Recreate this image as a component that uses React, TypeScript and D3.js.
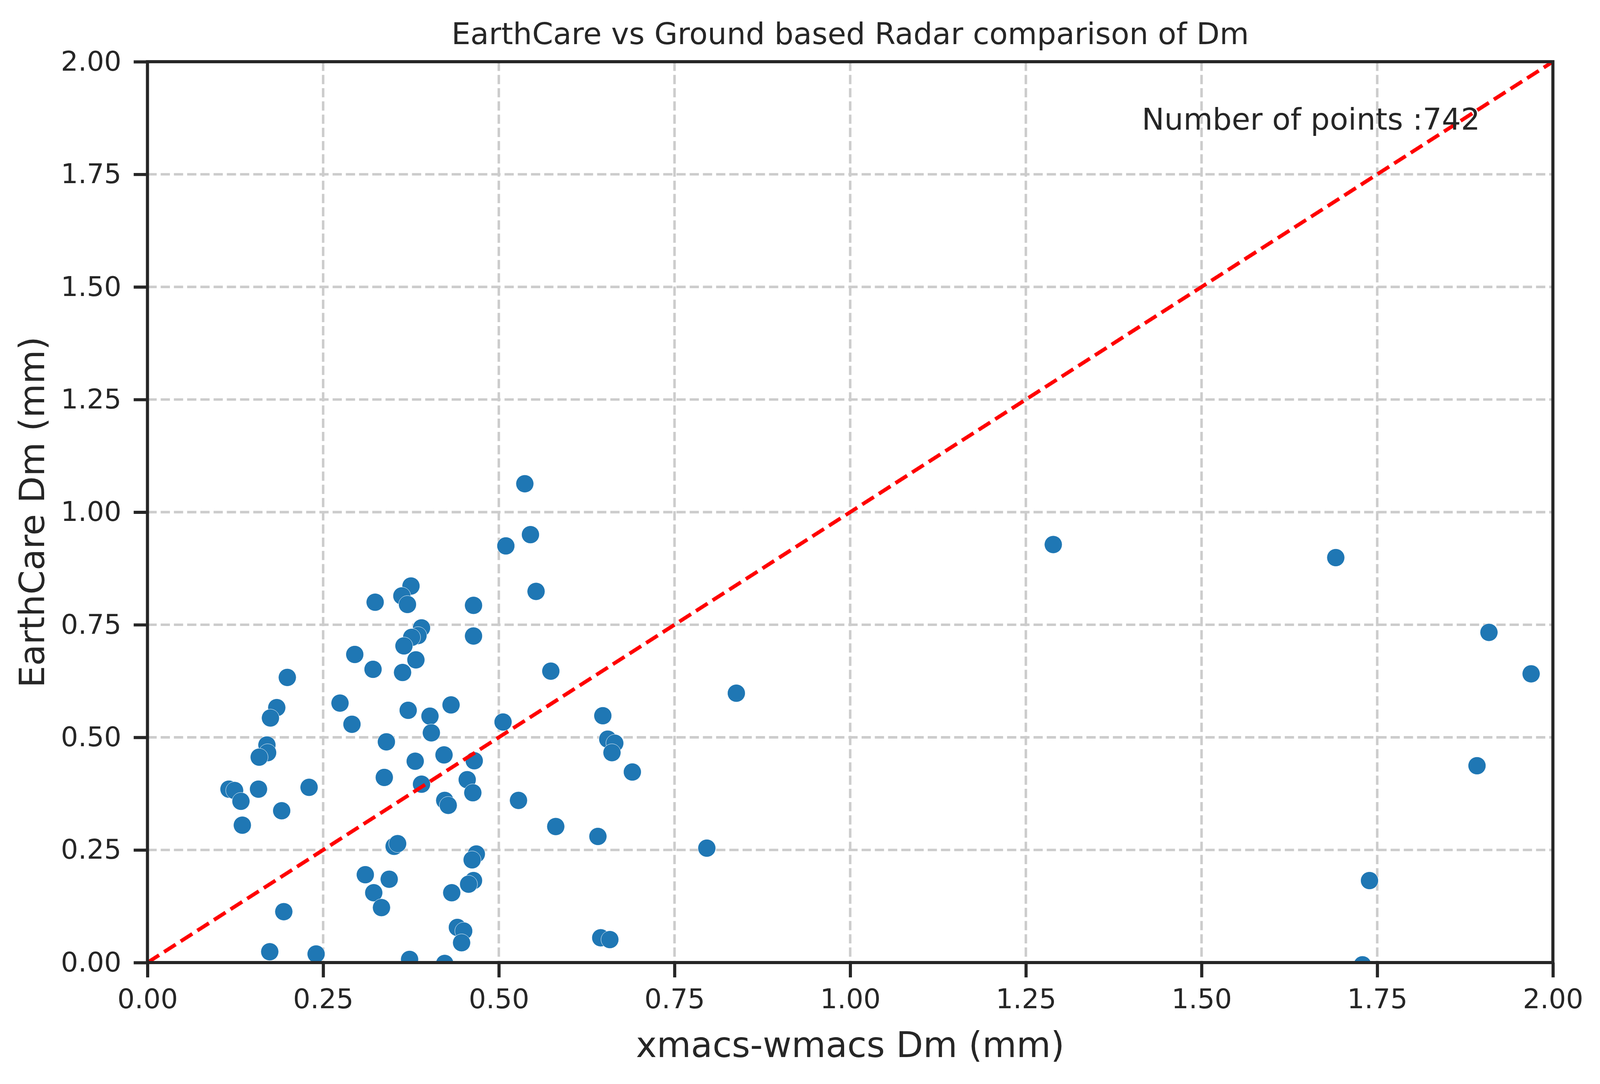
import { useEffect, useRef } from 'react';
import * as d3 from 'd3';

// xmacs-wmacs Dm (mm) vs EarthCare Dm (mm)
const xmacsDm = [
  0.537, 0.545, 0.51, 0.553, 0.574, 0.838, 0.648, 0.506,
  0.324, 0.375, 0.362, 0.37, 0.464, 0.39, 0.385, 0.376, 0.365, 0.464,
  0.295, 0.321, 0.382, 0.363, 0.199, 0.184, 0.175, 0.274, 0.371, 0.402,
  0.432, 0.291, 0.404, 0.34, 0.17, 0.171, 0.159, 0.381, 0.422, 0.465,
  0.337, 0.39, 0.455, 0.463, 0.423, 0.428, 0.116, 0.124, 0.133, 0.158,
  0.23, 0.191, 0.135, 0.351, 0.356, 0.31, 0.344, 0.322, 0.333, 0.194,
  0.468, 0.462, 0.464, 0.457, 0.433, 0.441, 0.45, 0.447, 0.174, 0.24,
  0.373, 0.423,
  0.655, 0.665, 0.661, 0.69, 0.528, 0.581, 0.641, 0.796, 0.645, 0.658,
  1.289, 1.691, 1.909, 1.969, 1.892, 1.739, 1.729,
];

const earthcareDm = [
  1.063, 0.95, 0.925, 0.824, 0.647, 0.598, 0.548, 0.534,
  0.8, 0.836, 0.814, 0.795, 0.793, 0.743, 0.726, 0.722, 0.703, 0.725,
  0.684, 0.651, 0.672, 0.644, 0.633, 0.566, 0.543, 0.576, 0.56, 0.547,
  0.572, 0.529, 0.51, 0.49, 0.483, 0.466, 0.456, 0.447, 0.461, 0.448,
  0.411, 0.396, 0.406, 0.377, 0.36, 0.349, 0.385, 0.382, 0.358, 0.385,
  0.389, 0.337, 0.305, 0.258, 0.264, 0.195, 0.185, 0.155, 0.122, 0.113,
  0.241, 0.228, 0.182, 0.174, 0.155, 0.078, 0.07, 0.044, 0.024, 0.019,
  0.007, -0.002,
  0.496, 0.487, 0.466, 0.423, 0.36, 0.302, 0.28, 0.254, 0.055, 0.051,
  0.928, 0.899, 0.733, 0.641, 0.437, 0.182, -0.005,
];

const axisDomain = [0, 2];
const tickValues = [0, 0.25, 0.5, 0.75, 1.0, 1.25, 1.5, 1.75, 2.0];
const oneToOne = [0, 2];
const pointCount = 742;

const titleText = 'EarthCare vs Ground based Radar comparison of Dm';
const xLabelText = 'xmacs-wmacs Dm (mm)';
const yLabelText = 'EarthCare Dm (mm)';

// design size of the original figure
const BASE_W = 4416;
const BASE_H = 2776;

export default function App() {
  const wrapRef = useRef<HTMLDivElement>(null);
  const svgRef = useRef<SVGSVGElement>(null);

  useEffect(() => {
    if (!svgRef.current || !wrapRef.current) return;

    const box = wrapRef.current.getBoundingClientRect();
    const width = box.width || BASE_W;
    const height = box.height || BASE_H;
    // horizontal / vertical layout scale, sizes follow the horizontal one
    const kx = width / BASE_W;
    const ky = height / BASE_H;
    const k = kx;

    const margin = { top: 158 * ky, right: 130 * kx, bottom: 311 * ky, left: 407 * kx };
    const innerWidth = width - margin.left - margin.right;
    const innerHeight = height - margin.top - margin.bottom;
    const font = '"DejaVu Sans", sans-serif';
    const ink = '#262626';

    const svg = d3.select(svgRef.current);
    svg.selectAll('*').remove();
    svg.attr('width', width).attr('height', height);

    svg.append('rect').attr('width', width).attr('height', height).attr('fill', '#ffffff');

    const xScale = d3.scaleLinear().domain(axisDomain).range([0, innerWidth]);
    const yScale = d3.scaleLinear().domain(axisDomain).range([innerHeight, 0]);

    svg
      .append('defs')
      .append('clipPath')
      .attr('id', 'plot-clip')
      .append('rect')
      .attr('width', innerWidth)
      .attr('height', innerHeight);

    const g = svg.append('g').attr('transform', `translate(${margin.left},${margin.top})`);

    // grid
    const gridTicks = tickValues.slice(1, -1);
    const dash = `${25.5 * k} ${11 * k}`;
    g.append('g')
      .selectAll('line')
      .data(gridTicks)
      .enter()
      .append('line')
      .attr('x1', (d) => xScale(d))
      .attr('x2', (d) => xScale(d))
      .attr('y1', 0)
      .attr('y2', innerHeight)
      .attr('stroke', '#cccccc')
      .attr('stroke-width', 6.9 * k)
      .attr('stroke-dasharray', dash);
    g.append('g')
      .selectAll('line')
      .data(gridTicks)
      .enter()
      .append('line')
      .attr('y1', (d) => yScale(d))
      .attr('y2', (d) => yScale(d))
      .attr('x1', 0)
      .attr('x2', innerWidth)
      .attr('stroke', '#cccccc')
      .attr('stroke-width', 6.9 * k)
      .attr('stroke-dasharray', dash);

    const plot = g.append('g').attr('clip-path', 'url(#plot-clip)');

    // scatter
    plot
      .selectAll('circle')
      .data(d3.zip(xmacsDm, earthcareDm))
      .enter()
      .append('circle')
      .attr('cx', (d) => xScale(d[0]))
      .attr('cy', (d) => yScale(d[1]))
      .attr('r', 24.5 * k)
      .attr('fill', '#1f77b4')
      .attr('stroke', '#ffffff')
      .attr('stroke-width', 1 * k);

    // 1:1 line
    plot
      .append('line')
      .attr('x1', xScale(oneToOne[0]))
      .attr('y1', yScale(oneToOne[0]))
      .attr('x2', xScale(oneToOne[1]))
      .attr('y2', yScale(oneToOne[1]))
      .attr('stroke', '#ff0000')
      .attr('stroke-width', 10.3 * k)
      .attr('stroke-dasharray', `${38 * k} ${16.5 * k}`);

    // X axis
    const xAxis = g
      .append('g')
      .attr('transform', `translate(0,${innerHeight})`)
      .call(
        d3
          .axisBottom(xScale)
          .tickValues(tickValues)
          .tickFormat(d3.format('.2f'))
          .tickSize(38 * ky)
          .tickPadding(30 * ky)
      );

    // Y axis
    const yAxis = g
      .append('g')
      .call(
        d3
          .axisLeft(yScale)
          .tickValues(tickValues)
          .tickFormat(d3.format('.2f'))
          .tickSize(38 * kx)
          .tickPadding(34 * kx)
      );

    [xAxis, yAxis].forEach((axis) => {
      axis.select('.domain').remove();
      axis.selectAll('line').attr('stroke', ink).attr('stroke-width', 8.6 * k);
      axis
        .selectAll('text')
        .attr('fill', ink)
        .style('font-family', font)
        .style('font-size', `${75 * k}px`);
    });

    // spines
    g.append('rect')
      .attr('width', innerWidth)
      .attr('height', innerHeight)
      .attr('fill', 'none')
      .attr('stroke', ink)
      .attr('stroke-width', 8.6 * k);

    // annotation
    g.append('text')
      .attr('x', xScale(1.415))
      .attr('y', yScale(1.849))
      .attr('fill', ink)
      .style('font-family', font)
      .style('font-size', `${83 * k}px`)
      .text(`Number of points :${pointCount}`);

    // title and labels
    svg
      .append('text')
      .attr('x', margin.left + innerWidth / 2)
      .attr('y', 113 * ky)
      .attr('text-anchor', 'middle')
      .attr('fill', ink)
      .style('font-family', font)
      .style('font-size', `${83 * k}px`)
      .text(titleText);

    svg
      .append('text')
      .attr('x', margin.left + innerWidth / 2)
      .attr('y', 2707 * ky)
      .attr('text-anchor', 'middle')
      .attr('fill', ink)
      .style('font-family', font)
      .style('font-size', `${97 * k}px`)
      .text(xLabelText);

    svg
      .append('text')
      .attr('transform', `translate(${122 * kx},${margin.top + innerHeight / 2}) rotate(-90)`)
      .attr('text-anchor', 'middle')
      .attr('fill', ink)
      .style('font-family', font)
      .style('font-size', `${96 * k}px`)
      .text(yLabelText);
  }, []);

  return (
    <div
      ref={wrapRef}
      style={{ position: 'fixed', left: 0, top: 0, width: '100vw', height: '100vh', overflow: 'hidden', background: '#fff' }}
    >
      <svg ref={svgRef} style={{ display: 'block' }} />
    </div>
  );
}
